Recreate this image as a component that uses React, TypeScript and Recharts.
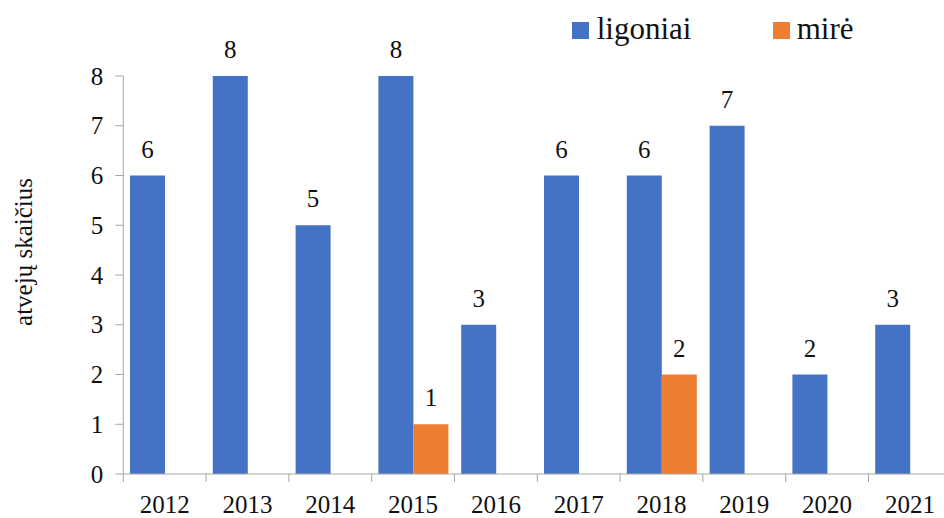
import React from 'react';
import { BarChart, Bar, XAxis, YAxis, Legend, LabelList } from 'recharts';

const years = ['2012', '2013', '2014', '2015', '2016', '2017', '2018', '2019', '2020', '2021'];
const ligoniai = [6, 8, 5, 8, 3, 6, 6, 7, 2, 3];
const mire: (number | null)[] = [null, null, null, 1, null, null, 2, null, null, null];
const yTicks = [0, 1, 2, 3, 4, 5, 6, 7, 8];
const nameLigoniai = 'ligoniai';
const nameMire = 'mirė';
const yAxisTitle = 'atvejų skaičius';

const BLUE = '#4472C4';
const ORANGE = '#ED7D31';
const AXIS = '#a6a6a6';
const TEXT = '#111111';
const FONT = 'Liberation Serif';
const fontStyle = { fontFamily: FONT };

const W = 952;
const H = 518;
const TOP = 76;
const YAXIS_W = 123.3;
const XAXIS_H = 44;
const RIGHT = 0.7;
const BAND = (W - YAXIS_W - RIGHT) / years.length;
const PLOT_BOTTOM = H - XAXIS_H;

const data = years.map((y, i) => ({ year: y, ligoniai: ligoniai[i], mire: mire[i] }));

const XTick = (props: any) => {
  const { x, payload } = props;
  const half = payload && payload.offset ? payload.offset : BAND / 2;
  return (
    <g>
      <line x1={x - half} x2={x - half} y1={PLOT_BOTTOM} y2={PLOT_BOTTOM + 8} stroke={AXIS} strokeWidth={1} />
      <text x={x} y={513} textAnchor="middle" fontSize={25} style={fontStyle} fill={TEXT}>
        {payload.value}
      </text>
    </g>
  );
};

const YTick = (props: any) => {
  const { x, y, payload } = props;
  return (
    <text x={x} y={Number(y) + 8.5} textAnchor="end" fontSize={25} style={fontStyle} fill={TEXT}>
      {payload.value}
    </text>
  );
};

const BarLabel = (props: any) => {
  const { x, y, width, value } = props;
  if (value === null || value === undefined || value === 0) return null;
  return (
    <text x={Number(x) + Number(width) / 2} y={Number(y) - 18} textAnchor="middle" fontSize={25} style={fontStyle} fill={TEXT}>
      {value}
    </text>
  );
};

const LegendContent = (props: any) => {
  const payload = props.payload || [];
  const pos = [
    { sx: 572, tx: 596.7 },
    { sx: 773, tx: 796.7 },
  ];
  return (
    <svg width={W} height={60} style={{ display: 'block' }}>
      {payload.map((p: any, i: number) => (
        <g key={i}>
          <rect x={pos[i].sx} y={22} width={17} height={17} fill={p.color} />
          <text x={pos[i].tx} y={39} fontSize={31} style={fontStyle} fill={TEXT}>
            {p.value}
          </text>
        </g>
      ))}
    </svg>
  );
};

const YTitle = () => (
  <text
    x={32}
    y={252}
    transform="rotate(-90, 32, 252)"
    textAnchor="middle"
    fontSize={25}
    style={fontStyle}
    fill={TEXT}
  >
    {yAxisTitle}
  </text>
);

export default function App() {
  return (
    <div style={{ position: 'fixed', left: 0, top: 0, width: 944, height: 518, overflow: 'hidden', background: '#fff', fontFamily: FONT }}>
      <BarChart
        width={W}
        height={H}
        data={data}
        margin={{ top: TOP, right: RIGHT, bottom: 0, left: 0 }}
        barCategoryGap={6.7}
        barGap={0}
      >
        <XAxis
          dataKey="year"
          height={XAXIS_H}
          axisLine={{ stroke: AXIS, strokeWidth: 1 }}
          tickLine={false}
          tick={<XTick />}
          interval={0}
        />
        <YAxis
          width={YAXIS_W}
          domain={[0, 8]}
          ticks={yTicks}
          interval={0}
          axisLine={{ stroke: AXIS, strokeWidth: 1 }}
          tickLine={{ stroke: AXIS, strokeWidth: 1 }}
          tickSize={8}
          tickMargin={12}
          tick={<YTick />}
          label={{ content: () => <YTitle /> }}
        />
        <Legend
          verticalAlign="middle"
          align="center"
          layout="horizontal"
          wrapperStyle={{ top: 0, left: 0, width: W, height: 60 }}
          content={<LegendContent />}
        />
        <Bar dataKey="ligoniai" name={nameLigoniai} fill={BLUE} isAnimationActive={false}>
          <LabelList dataKey="ligoniai" content={<BarLabel />} />
        </Bar>
        <Bar dataKey="mire" name={nameMire} fill={ORANGE} isAnimationActive={false}>
          <LabelList dataKey="mire" content={<BarLabel />} />
        </Bar>
      </BarChart>
    </div>
  );
}
